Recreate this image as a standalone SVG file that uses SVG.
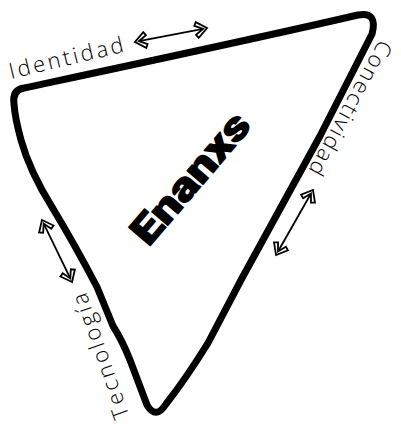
<svg xmlns="http://www.w3.org/2000/svg" width="401" height="424" viewBox="0 0 401 424">
<style>
.edge{fill:none;stroke:#000;stroke-width:7;stroke-linejoin:round;stroke-linecap:round}
.lbl{font-family:"Open Sans","Liberation Sans",sans-serif;font-weight:300;font-size:22px;fill:#000}
.title{font-family:Roboto,"Liberation Sans",sans-serif;font-weight:900;font-size:40px;fill:#000;stroke:#000;stroke-width:1.2;stroke-linejoin:round}
.arr{fill:none;stroke:#000;stroke-width:1.8;marker-start:url(#h);marker-end:url(#h)}
</style>
<defs>
<marker id="h" markerUnits="userSpaceOnUse" markerWidth="24" markerHeight="24" refX="-4" refY="0" orient="auto-start-reverse" overflow="visible" viewBox="-14 -10 24 20">
<path d="M -4 0 L -12 -4.5 L -10 -8 L 0 0 L -10 8 L -12 4.5 Z" fill="#fff" stroke="#000" stroke-width="1.8" stroke-linejoin="miter"/>
</marker>
</defs>
<g id="triangle">
<path class="edge" d="M 14 104 Q 12 90 24 88 C 80 76 250 40 358 15 Q 378 11 372 34 L 320 136 L 241 280 L 208 343 Q 185 380 166 404 Q 156 420 147 405 L 130 360 Q 122 340 113 326 L 97 287 Q 75 245 52 207 Q 30 172 21 140 Q 15 118 14 104 Z"/>
</g>
<g id="center">
<text class="title" transform="translate(190,178) rotate(-49.4)" x="0" y="14" text-anchor="middle" textLength="160" lengthAdjust="spacingAndGlyphs">Enanxs</text>
</g>
<g id="identidad">
<text class="lbl" transform="translate(11,79) rotate(-13.5)" x="0" y="0" textLength="117">Identidad</text>
</g>
<g id="conectividad">
<text class="lbl" transform="translate(350,108) rotate(118.5)" x="0" y="7" text-anchor="middle" textLength="150">Conectividad</text>
</g>
<g id="tecnologia">
<text class="lbl" transform="translate(101,356) rotate(-109.3)" x="0" y="7" text-anchor="middle" textLength="132">Tecnología</text>
</g>
<g id="connectors">
<line class="arr" x1="138.9" y1="41.2" x2="203.1" y2="28.8"/>
<line class="arr" x1="43.7" y1="223.6" x2="70.3" y2="278.4"/>
<line class="arr" x1="311" y1="193.5" x2="278" y2="251.5"/>
</g>
</svg>
